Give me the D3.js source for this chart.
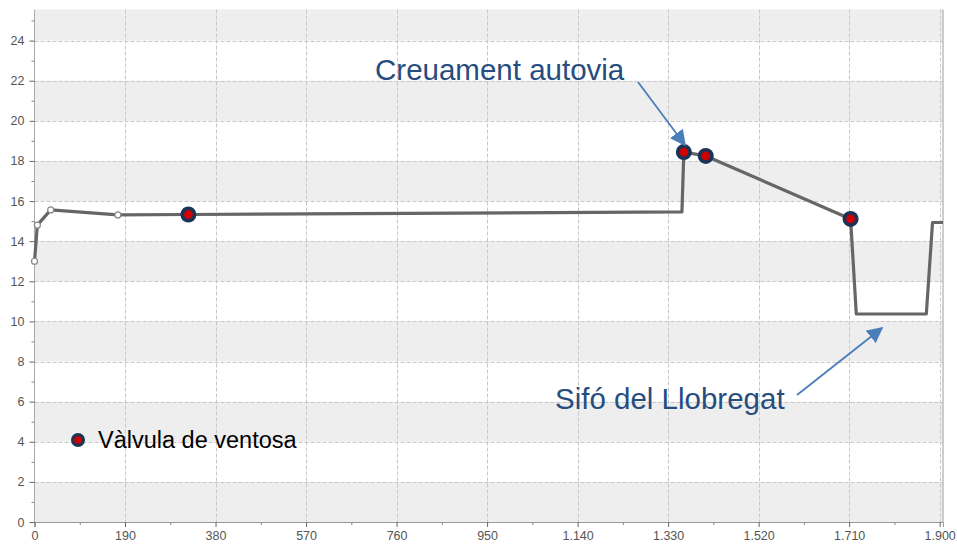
<!DOCTYPE html>
<html><head><meta charset="utf-8">
<script src="https://cdn.jsdelivr.net/npm/d3@7"></script>
<style>body{margin:0;background:#fff}svg{display:block;font-family:"Liberation Sans",Arial,sans-serif}</style>
</head><body><svg id="c" width="957" height="547"></svg>
<script>
const chainage = [0, 6, 34, 175, 323, 1359, 1363, 1409, 1713, 1725, 1872, 1885, 1907];
const elevation = [13.0, 14.8, 15.56, 15.31, 15.33, 15.46, 18.44, 18.25, 15.11, 10.37, 10.37, 14.93, 14.93];
const nodeChainage = [0, 6, 34, 175];
const nodeElevation = [13.0, 14.8, 15.56, 15.31];
const valveChainage = [323, 1363, 1409, 1713];
const valveElevation = [15.33, 18.44, 18.25, 15.11];
const xTicks = [0, 190, 380, 570, 760, 950, 1140, 1330, 1520, 1710, 1900];
const yTicks = [0, 2, 4, 6, 8, 10, 12, 14, 16, 18, 20, 22, 24];
const legendLabel = "Vàlvula de ventosa";
const annotations = [
  {text: "Creuament autovia", tx: 375, ty: 80, x1: 638, y1: 82, x2: 685, y2: 145},
  {text: "Sifó del Llobregat", tx: 555, ty: 409, x1: 797, y1: 395, x2: 882, y2: 328}
];

const svg = d3.select("#c");
const L = 34.5, R = 943, T = 9.5, B = 522;
const x = d3.scaleLinear().domain([0, 1907]).range([L, R]);
const y = d3.scaleLinear().domain([0, 25.55]).range([B, T]);

// bands
const bands = d3.range(0, 26, 4);
svg.append("g").selectAll("rect").data(bands).join("rect")
  .attr("x", L).attr("width", R - L)
  .attr("y", d => y(Math.min(d + 2, 25.55)))
  .attr("height", d => y(d) - y(Math.min(d + 2, 25.55)))
  .attr("fill", "#eeeeee");

// grid
const grid = svg.append("g").attr("stroke", "#c8c8c8").attr("stroke-dasharray", "4,2").attr("stroke-width", 1);
grid.selectAll("line.h").data(yTicks.slice(1)).join("line")
  .attr("x1", L).attr("x2", R).attr("y1", d => Math.round(y(d)) + 0.5).attr("y2", d => Math.round(y(d)) + 0.5);
grid.selectAll("line.v").data(xTicks.slice(1)).join("line")
  .attr("y1", T).attr("y2", B).attr("x1", d => Math.round(x(d)) + 0.5).attr("x2", d => Math.round(x(d)) + 0.5);

// frame lines
svg.append("line").attr("x1", R).attr("x2", R).attr("y1", T).attr("y2", B).attr("stroke", "#bdbdbd").attr("stroke-width", 1.5);
svg.append("line").attr("x1", L).attr("x2", R).attr("y1", B + 0.5).attr("y2", B + 0.5).attr("stroke", "#aaa");

// axes
const fmt = d => d3.format(",")(d).replace(/,/g, ".");
const xAxis = svg.append("g").attr("transform", `translate(0,${B})`)
  .call(d3.axisBottom(x).tickValues(xTicks).tickFormat(fmt).tickSize(5).tickPadding(4));
xAxis.select(".domain").attr("stroke", "#999");
xAxis.selectAll(".tick line").attr("stroke", "#666");
xAxis.selectAll("text").attr("fill", "#555").attr("font-size", 12.5).attr("font-family", "Liberation Sans, Arial, sans-serif");
svg.append("g").attr("transform", `translate(0,${B})`)
  .call(d3.axisBottom(x).tickValues(d3.range(95, 1900, 190)).tickFormat("").tickSize(3))
  .call(g => g.select(".domain").remove())
  .selectAll("line").attr("stroke", "#888");

const yAxis = svg.append("g").attr("transform", `translate(${L},0)`)
  .call(d3.axisLeft(y).tickValues(yTicks).tickSize(5).tickPadding(5));
yAxis.select(".domain").attr("stroke", "#aaa").attr("d", `M0,${T}V${B}`);
yAxis.selectAll(".tick line").attr("stroke", "#666");
yAxis.selectAll("text").attr("fill", "#555").attr("font-size", 12.5).attr("font-family", "Liberation Sans, Arial, sans-serif");
svg.append("g").attr("transform", `translate(${L},0)`)
  .call(d3.axisLeft(y).tickValues(d3.range(1, 26, 2)).tickFormat("").tickSize(3))
  .call(g => g.select(".domain").remove())
  .selectAll("line").attr("stroke", "#888");

// profile
const pts = chainage.map((c, i) => [c, elevation[i]]);
svg.append("path").datum(pts)
  .attr("d", d3.line().x(d => x(d[0])).y(d => y(d[1])))
  .attr("fill", "none").attr("stroke", "#666").attr("stroke-width", 3.2).attr("stroke-linejoin", "round");

svg.append("g").selectAll("circle").data(nodeChainage.map((c, i) => [c, nodeElevation[i]])).join("circle")
  .attr("cx", d => x(d[0])).attr("cy", d => y(d[1])).attr("r", 3)
  .attr("fill", "#fff").attr("stroke", "#888").attr("stroke-width", 1.2);

const valves = svg.append("g").selectAll("g").data(valveChainage.map((c, i) => [c, valveElevation[i]])).join("g")
  .attr("transform", d => `translate(${x(d[0])},${y(d[1])})`);
valves.append("circle").attr("r", 8).attr("fill", "#1a3357");
valves.append("circle").attr("r", 4.4).attr("fill", "#d10000");

// legend
const lg = svg.append("g").attr("transform", "translate(78,440)");
lg.append("circle").attr("r", 7).attr("fill", "#1a3357");
lg.append("circle").attr("r", 3.8).attr("fill", "#d10000");
lg.append("text").attr("x", 20).attr("y", 8).attr("font-size", 23.5).attr("fill", "#000").text(legendLabel);

// annotations
const defs = svg.append("defs");
defs.append("marker").attr("id", "ah").attr("viewBox", "0 0 10 10").attr("refX", 9).attr("refY", 5)
  .attr("markerWidth", 16).attr("markerHeight", 16).attr("markerUnits", "userSpaceOnUse").attr("orient", "auto")
  .append("path").attr("d", "M0,0L10,5L0,10z").attr("fill", "#4a7ebb");
const an = svg.append("g").selectAll("g").data(annotations).join("g");
an.append("line").attr("x1", d => d.x1).attr("y1", d => d.y1).attr("x2", d => d.x2).attr("y2", d => d.y2)
  .attr("stroke", "#4a7ebb").attr("stroke-width", 1.8).attr("marker-end", "url(#ah)");
an.append("text").attr("x", d => d.tx).attr("y", d => d.ty).attr("font-size", 29.5).attr("fill", "#264d7e").text(d => d.text);
</script></body></html>
